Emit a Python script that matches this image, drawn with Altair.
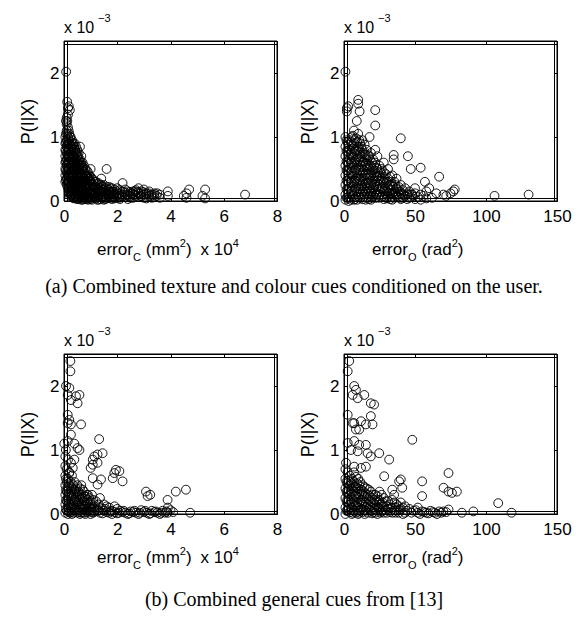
import altair as alt
import pandas as pd

# ---------------- data (y in units of 1e-3) ----------------
# (a) left: error_C (x 1e4 mm^2) -- columns of points (x, list of y)
tl_cx = [0.05, 0.1, 0.15, 0.2, 0.25, 0.3, 0.35, 0.4, 0.45, 0.5, 0.55, 0.6, 0.65,
         0.7, 0.75, 0.8, 0.85, 0.9, 0.95, 1.0, 1.05, 1.1, 1.15, 1.2, 1.25, 1.3,
         1.35, 1.4, 1.45, 1.5, 1.55, 1.6, 1.65, 1.7, 1.75, 1.8, 1.85, 1.9, 2.0,
         2.1, 2.2, 2.3, 2.4, 2.5, 2.6, 2.7, 2.8, 2.9, 3.0, 3.1, 3.2, 3.3, 3.4,
         3.5, 3.6, 3.9, 4.5, 4.6, 4.7, 5.2, 5.3, 6.8]
tl_cy = [[1.0, 0.9, 0.8, 0.7, 0.6, 0.5, 0.4, 0.3],
         [1.3, 1.2, 1.1, 0.95, 0.85, 0.75, 0.65, 0.55, 0.45, 0.35, 0.25],
         [1.35, 1.15, 1.0, 0.9, 0.8, 0.7, 0.6, 0.5, 0.4, 0.3, 0.2],
         [1.05, 0.9, 0.8, 0.7, 0.6, 0.5, 0.4, 0.3, 0.2, 0.12],
         [1.0, 0.85, 0.75, 0.65, 0.55, 0.45, 0.35, 0.25, 0.15, 0.1],
         [0.95, 0.85, 0.75, 0.65, 0.55, 0.45, 0.35, 0.25, 0.15, 0.08],
         [0.9, 0.8, 0.7, 0.6, 0.5, 0.4, 0.3, 0.2, 0.1, 0.05],
         [0.9, 0.8, 0.7, 0.6, 0.5, 0.4, 0.3, 0.2, 0.1, 0.05],
         [0.85, 0.75, 0.65, 0.55, 0.45, 0.35, 0.25, 0.15, 0.05],
         [0.8, 0.7, 0.6, 0.5, 0.4, 0.3, 0.2, 0.1, 0.03],
         [0.75, 0.65, 0.55, 0.45, 0.35, 0.25, 0.15, 0.05],
         [0.85, 0.65, 0.55, 0.45, 0.35, 0.25, 0.15, 0.05],
         [0.7, 0.6, 0.5, 0.4, 0.3, 0.2, 0.1, 0.02],
         [0.6, 0.5, 0.4, 0.3, 0.2, 0.1, 0.02],
         [0.55, 0.45, 0.35, 0.25, 0.15, 0.05],
         [0.5, 0.42, 0.33, 0.25, 0.15, 0.06],
         [0.48, 0.38, 0.3, 0.2, 0.1, 0.03],
         [0.45, 0.35, 0.27, 0.18, 0.08, 0.02],
         [0.4, 0.32, 0.23, 0.13, 0.05],
         [0.5, 0.38, 0.3, 0.2, 0.1, 0.03],
         [0.35, 0.27, 0.18, 0.1, 0.02],
         [0.33, 0.25, 0.17, 0.08],
         [0.3, 0.2, 0.12, 0.05],
         [0.3, 0.22, 0.12, 0.04],
         [0.27, 0.18, 0.08, 0.02],
         [0.28, 0.2, 0.1, 0.02],
         [0.25, 0.17, 0.08],
         [0.35, 0.25, 0.15, 0.06],
         [0.22, 0.14, 0.05],
         [0.25, 0.17, 0.08, 0.02],
         [0.2, 0.1, 0.03],
         [0.5, 0.22, 0.12, 0.04],
         [0.18, 0.1],
         [0.22, 0.14, 0.05],
         [0.2, 0.08],
         [0.2, 0.12, 0.03],
         [0.15, 0.06],
         [0.18, 0.1, 0.04],
         [0.2, 0.12, 0.05],
         [0.17, 0.08, 0.03],
         [0.28, 0.15, 0.07],
         [0.18, 0.1],
         [0.15, 0.08, 0.03],
         [0.12, 0.05],
         [0.15, 0.1, 0.05],
         [0.17, 0.08],
         [0.2, 0.12, 0.06],
         [0.15, 0.07],
         [0.18, 0.1, 0.05],
         [0.12, 0.04],
         [0.15, 0.08],
         [0.1, 0.05],
         [0.12, 0.06],
         [0.12],
         [0.1, 0.05],
         [0.15, 0.08],
         [0.08],
         [0.12, 0.05],
         [0.18],
         [0.08],
         [0.18, 0.04],
         [0.1]]
tl_fx = [0.075, 0.125, 0.175, 0.225, 0.275, 0.325, 0.375, 0.425, 0.475, 0.525,
         0.575, 0.625, 0.675, 0.725, 0.775, 0.825, 0.875, 0.925, 0.975, 1.08,
         1.18, 1.28, 1.38, 1.48, 1.58, 1.68, 1.78, 1.88, 1.98, 2.08, 2.18, 2.28,
         2.38, 2.48, 2.58, 2.68, 2.78, 2.88, 2.98, 3.08, 3.18, 3.28, 3.38, 3.48]
tl_fy = [[1.25, 1.05, 0.92, 0.78, 0.62, 0.48, 0.33],
         [1.25, 1.05, 0.88, 0.72, 0.58, 0.42, 0.28],
         [1.1, 0.95, 0.82, 0.68, 0.52, 0.38, 0.25, 0.15],
         [1.0, 0.88, 0.72, 0.58, 0.42, 0.28, 0.15, 0.08],
         [0.92, 0.78, 0.62, 0.48, 0.32, 0.2, 0.1],
         [0.88, 0.72, 0.58, 0.42, 0.28, 0.18, 0.06],
         [0.85, 0.68, 0.52, 0.38, 0.25, 0.12, 0.04],
         [0.8, 0.62, 0.48, 0.32, 0.18, 0.08],
         [0.75, 0.58, 0.42, 0.28, 0.15, 0.06],
         [0.7, 0.52, 0.38, 0.22, 0.1, 0.03],
         [0.62, 0.48, 0.32, 0.18, 0.08],
         [0.58, 0.42, 0.28, 0.12, 0.04],
         [0.55, 0.38, 0.22, 0.08],
         [0.52, 0.35, 0.18, 0.06],
         [0.45, 0.3, 0.12, 0.03],
         [0.4, 0.22, 0.08],
         [0.38, 0.25, 0.12, 0.04],
         [0.35, 0.2, 0.06],
         [0.3, 0.15, 0.05],
         [0.22, 0.12, 0.05],
         [0.2, 0.1],
         [0.17, 0.06],
         [0.2, 0.11, 0.03],
         [0.18, 0.07],
         [0.15, 0.06],
         [0.17, 0.08],
         [0.14, 0.05],
         [0.12, 0.07],
         [0.15, 0.08],
         [0.12, 0.05],
         [0.1],
         [0.13, 0.06],
         [0.1],
         [0.14, 0.08],
         [0.12],
         [0.15, 0.1],
         [0.14],
         [0.12, 0.08],
         [0.14],
         [0.1],
         [0.12],
         [0.08],
         [0.1],
         [0.08]]
tl_ox = [0.08, 0.12, 0.18, 0.15, 0.22]
tl_oy = [2.02, 1.55, 1.48, 1.45, 1.42]

# (a) right: error_O (rad^2)
tr_cx = [1, 2.5, 4, 5.5, 7, 8.5, 10, 11.5, 13, 14.5, 16, 17.5, 19, 20.5, 22,
         23.5, 25, 26.5, 28, 29.5, 31, 32.5, 34, 35.5, 37, 38.5, 40, 41.5, 43,
         44.5, 46, 48, 50, 54, 56, 58, 62]
tr_cy = [[1.0, 0.85, 0.7, 0.55, 0.4, 0.25, 0.1, 0.02],
         [0.92, 0.78, 0.62, 0.48, 0.32, 0.18, 0.05],
         [0.95, 0.8, 0.65, 0.5, 0.35, 0.2, 0.05],
         [1.0, 0.87, 0.72, 0.58, 0.42, 0.28, 0.12],
         [1.1, 0.9, 0.75, 0.6, 0.45, 0.3, 0.15, 0.02],
         [0.98, 0.8, 0.65, 0.5, 0.35, 0.2, 0.06],
         [1.05, 0.85, 0.7, 0.55, 0.4, 0.25, 0.1],
         [0.9, 0.75, 0.62, 0.48, 0.33, 0.18, 0.05],
         [0.95, 0.8, 0.6, 0.45, 0.3, 0.15, 0.03],
         [0.88, 0.72, 0.55, 0.4, 0.25, 0.1],
         [0.8, 0.65, 0.5, 0.35, 0.2, 0.05],
         [0.7, 0.58, 0.42, 0.28, 0.15, 0.03],
         [0.75, 0.55, 0.4, 0.25, 0.12, 0.02],
         [0.65, 0.5, 0.35, 0.2, 0.08],
         [0.8, 0.6, 0.45, 0.3, 0.15, 0.05],
         [0.7, 0.5, 0.38, 0.22, 0.1],
         [0.55, 0.4, 0.25, 0.1],
         [0.5, 0.35, 0.2, 0.06],
         [0.6, 0.45, 0.3, 0.15, 0.03],
         [0.42, 0.28, 0.12],
         [0.5, 0.35, 0.2, 0.08],
         [0.38, 0.25, 0.12, 0.03],
         [0.4, 0.25, 0.12, 0.02],
         [0.3, 0.15, 0.05],
         [0.35, 0.2, 0.08],
         [0.22, 0.1],
         [0.25, 0.12, 0.03],
         [0.17, 0.05],
         [0.2, 0.08],
         [0.12, 0.03],
         [0.15, 0.05],
         [0.1],
         [0.12, 0.03],
         [0.1, 0.02],
         [0.08],
         [0.04],
         [0.05]]
tr_fx = [1.75, 3.25, 4.75, 6.25, 7.75, 9.25, 10.75, 12.25, 13.75, 15.25, 16.75,
         18.25, 19.75, 21.25, 22.75, 24.25, 25.75, 27.25, 28.75, 30.25, 31.75,
         33.25, 34.75, 36.25, 37.75, 39.25, 42, 45, 47, 52]
tr_fy = [[0.95, 0.78, 0.62, 0.48, 0.32, 0.18, 0.05],
         [0.88, 0.72, 0.58, 0.42, 0.28, 0.12, 0.0],
         [0.92, 0.75, 0.6, 0.45, 0.3, 0.15, 0.02],
         [1.02, 0.82, 0.68, 0.52, 0.38, 0.22, 0.08],
         [0.95, 0.78, 0.62, 0.48, 0.32, 0.18, 0.03],
         [0.92, 0.78, 0.6, 0.45, 0.3, 0.15, 0.02],
         [0.95, 0.8, 0.65, 0.5, 0.35, 0.2, 0.06],
         [0.85, 0.7, 0.55, 0.4, 0.25, 0.1],
         [0.75, 0.62, 0.48, 0.35, 0.2, 0.06],
         [0.72, 0.58, 0.42, 0.28, 0.15, 0.02],
         [0.72, 0.55, 0.42, 0.28, 0.12],
         [0.65, 0.5, 0.35, 0.2, 0.08],
         [0.6, 0.45, 0.3, 0.15, 0.05],
         [0.55, 0.4, 0.25, 0.12],
         [0.52, 0.38, 0.22, 0.1],
         [0.45, 0.32, 0.18, 0.05],
         [0.45, 0.3, 0.15],
         [0.38, 0.22, 0.08],
         [0.35, 0.2, 0.06],
         [0.3, 0.15, 0.04],
         [0.25, 0.12],
         [0.3, 0.18, 0.06],
         [0.22, 0.1],
         [0.25, 0.12],
         [0.18, 0.06],
         [0.15, 0.05],
         [0.1],
         [0.1],
         [0.06],
         [0.06]]
tr_ox = [1, 2, 3, 2, 10, 10, 11, 22, 22, 18, 9, 40, 45, 35, 35, 47, 54, 57,
         67, 58, 65, 70, 75, 77, 78, 72, 106, 130, 60, 50, 48]
tr_oy = [2.02, 1.45, 1.48, 1.4, 1.58, 1.52, 1.4, 1.42, 1.18, 1.0, 1.25, 0.98,
         0.7, 0.72, 0.65, 0.5, 0.52, 0.3, 0.38, 0.15, 0.12, 0.1, 0.12, 0.15,
         0.18, 0.08, 0.08, 0.1, 0.2, 0.2, 0.1]

# (b) left: error_C (x 1e4 mm^2)
bl_cx = [0.05, 0.1, 0.15, 0.2, 0.25, 0.3, 0.35, 0.4, 0.45, 0.5, 0.55, 0.6, 0.65,
         0.7, 0.75, 0.8, 0.85, 0.9, 0.95, 1.0, 1.05, 1.1, 1.2, 1.3, 1.35, 1.45,
         1.5, 1.6, 1.7, 1.8, 1.9, 2.0, 2.1, 2.2, 2.3, 2.4, 2.5, 2.6, 2.7, 2.8,
         2.9, 3.0, 3.1, 3.2, 3.3, 3.4, 3.5, 3.6, 3.7, 3.8, 3.9, 4.0, 4.1]
bl_cy = [[0.9, 0.75, 0.6, 0.45, 0.3, 0.15, 0.02],
         [0.7, 0.5, 0.35, 0.2, 0.05],
         [0.85, 0.55, 0.4, 0.25, 0.1, 0.0],
         [0.65, 0.45, 0.3, 0.15, 0.03],
         [0.5, 0.35, 0.2, 0.08],
         [0.6, 0.4, 0.25, 0.1, 0.0],
         [0.45, 0.3, 0.15, 0.02],
         [0.5, 0.35, 0.2, 0.05],
         [0.4, 0.25, 0.1],
         [0.45, 0.3, 0.15, 0.02],
         [0.35, 0.2, 0.05],
         [0.4, 0.25, 0.1, 0.0],
         [0.45, 0.3, 0.15, 0.02],
         [0.38, 0.25, 0.12, 0.03],
         [0.35, 0.2, 0.08],
         [0.27, 0.12, 0.0],
         [0.3, 0.15, 0.03],
         [0.3, 0.18, 0.05],
         [0.25, 0.1],
         [0.2, 0.08, 0.0],
         [0.3, 0.15, 0.03],
         [0.22, 0.1, 0.02],
         [0.2, 0.08],
         [0.15, 0.05],
         [0.25, 0.1, 0.02],
         [0.08, 0.01],
         [0.15, 0.05],
         [0.12, 0.03],
         [0.1, 0.02],
         [0.05, 0.0],
         [0.12, 0.03],
         [0.08, 0.01],
         [0.05],
         [0.03],
         [0.02],
         [0.0],
         [0.04],
         [0.03],
         [0.02],
         [0.0],
         [0.06],
         [0.03],
         [0.02],
         [0.0],
         [0.05],
         [0.03],
         [0.02],
         [0.0],
         [0.05],
         [0.02],
         [0.1, 0.02],
         [0.06],
         [0.03]]
bl_fx = [0.075, 0.175, 0.275, 0.375, 0.475, 0.575, 0.675, 0.775, 0.875, 0.975,
         1.15, 1.25, 1.55, 1.75, 2.05, 2.25, 2.45, 2.65, 2.85, 3.05, 3.25, 3.45,
         3.65, 3.85]
bl_fy = [[0.55, 0.38, 0.22, 0.08],
         [0.48, 0.32, 0.18, 0.04],
         [0.42, 0.28, 0.14, 0.03],
         [0.38, 0.22, 0.08],
         [0.35, 0.2, 0.06],
         [0.3, 0.15, 0.03],
         [0.25, 0.08],
         [0.28, 0.12, 0.02],
         [0.22, 0.08],
         [0.15, 0.04],
         [0.12, 0.04],
         [0.05],
         [0.08],
         [0.04],
         [0.02],
         [0.05],
         [0.01],
         [0.05],
         [0.02],
         [0.05],
         [0.01],
         [0.04],
         [0.02],
         [0.04]]
bl_ox = [0.24, 0.24, 0.075, 0.2, 0.14, 0.26, 0.45, 0.58, 0.51, 0.14, 0.2, 0.14,
         0.26, 0.64, 0.26, 0.14, 0.39, 0.01, 0.07, 0.51, 0.58, 1.32, 1.14, 1.08,
         1.26, 1.45, 1.08, 1.26, 1.0, 1.95, 1.89, 2.08, 1.83, 2.2, 1.08, 1.39,
         1.26, 0.26, 0.39, 0.33, 0.2, 3.08, 3.24, 3.14, 4.2, 4.58, 3.89, 4.74]
bl_oy = [2.39, 2.23, 2.0, 1.97, 1.86, 1.78, 1.84, 1.86, 1.73, 1.55, 1.47, 1.42,
         1.4, 1.4, 1.24, 1.14, 1.1, 1.1, 1.0, 1.03, 1.0, 1.17, 0.9, 0.85,
         0.93, 0.95, 0.77, 0.8, 0.72, 0.69, 0.64, 0.67, 0.56, 0.51, 0.56, 0.54,
         0.46, 0.8, 0.85, 0.72, 0.64, 0.35, 0.3, 0.28, 0.35, 0.38, 0.22, 0.02]

# (b) right: error_O (rad^2)
br_cx = [1, 2.5, 4, 5.5, 7, 8.5, 10, 11.5, 13, 14.5, 16, 17.5, 19, 20.5, 22,
         23.5, 25, 26.5, 28, 29.5, 31, 32.5, 34, 35.5, 37, 38.5, 40, 41.5, 43,
         44.5, 46, 47.5, 49, 50.5, 52, 53.5, 55, 56.5, 58, 59.5, 61, 62.5, 64,
         65.5, 67, 68.5]
br_cy = [[0.7, 0.55, 0.4, 0.25, 0.1, 0.0],
         [0.65, 0.48, 0.33, 0.18, 0.05],
         [0.6, 0.45, 0.3, 0.15, 0.03],
         [0.55, 0.4, 0.25, 0.1, 0.0],
         [0.65, 0.5, 0.35, 0.2, 0.05],
         [0.58, 0.42, 0.28, 0.13, 0.02],
         [0.55, 0.4, 0.25, 0.1, 0.0],
         [0.5, 0.35, 0.2, 0.05],
         [0.45, 0.3, 0.15, 0.03],
         [0.42, 0.28, 0.12, 0.0],
         [0.4, 0.25, 0.1],
         [0.38, 0.22, 0.08],
         [0.35, 0.2, 0.05],
         [0.3, 0.17, 0.03],
         [0.3, 0.15, 0.02],
         [0.28, 0.12, 0.0],
         [0.35, 0.2, 0.08],
         [0.3, 0.15, 0.04],
         [0.25, 0.12, 0.02],
         [0.2, 0.06],
         [0.2, 0.08],
         [0.15, 0.03],
         [0.22, 0.1, 0.02],
         [0.18, 0.06],
         [0.15, 0.05],
         [0.12, 0.02],
         [0.18, 0.08],
         [0.1, 0.0],
         [0.12, 0.02],
         [0.05],
         [0.08],
         [0.02],
         [0.05],
         [0.06],
         [0.1, 0.02],
         [0.0],
         [0.04],
         [0.03],
         [0.02],
         [0.01],
         [0.05],
         [0.03],
         [0.02],
         [0.0],
         [0.04],
         [0.02]]
br_fx = [1.75, 3.25, 4.75, 6.25, 7.75, 9.25, 10.75, 12.25, 13.75, 15.25, 16.75,
         18.25, 19.75, 21.25, 22.75, 24.25, 25.75, 27.25, 30.25, 33.25, 36.25,
         39.25]
br_fy = [[0.5, 0.35, 0.2, 0.05],
         [0.52, 0.38, 0.22, 0.08],
         [0.5, 0.35, 0.2, 0.06],
         [0.45, 0.3, 0.15, 0.02],
         [0.42, 0.28, 0.12],
         [0.48, 0.32, 0.18, 0.05],
         [0.45, 0.3, 0.15, 0.02],
         [0.38, 0.22, 0.08],
         [0.35, 0.2, 0.06],
         [0.32, 0.18, 0.05],
         [0.3, 0.15, 0.02],
         [0.28, 0.12],
         [0.25, 0.1, 0.01],
         [0.22, 0.08],
         [0.2, 0.06],
         [0.22, 0.1],
         [0.15, 0.02],
         [0.18, 0.06],
         [0.12, 0.02],
         [0.1],
         [0.1, 0.02],
         [0.06]]
br_ox = [3.7, 2.6, 7.2, 8.4, 6.1, 9.6, 14.3, 18.9, 21.2, 2.6, 7.2, 12, 15.4,
         20.1, 6.1, 8.4, 10.7, 18.9, 48.1, 2.6, 7.2, 10.7, 15.4, 4.9, 9.6, 16.6,
         18.9, 24.8, 31.8, 1.4, 7.2, 12, 15.4, 28.3, 40, 38.8, 55, 73.6, 70.1,
         73.6, 76, 79.5, 55, 41, 34, 35.3, 108.6, 118, 91.1, 83, 73.6, 70, 72]
br_oy = [2.39, 2.23, 2.0, 1.94, 1.86, 1.81, 1.86, 1.73, 1.71, 1.55, 1.42, 1.45,
         1.4, 1.4, 1.42, 1.32, 1.32, 1.53, 1.16, 1.11, 1.14, 1.08, 1.08, 1.0,
         0.98, 0.95, 0.9, 0.95, 0.85, 0.8, 0.74, 0.72, 0.74, 0.59, 0.54, 0.51,
         0.51, 0.64, 0.41, 0.35, 0.33, 0.35, 0.28, 0.41, 0.38, 0.3, 0.17, 0.02,
         0.04, 0.02, 0.07, 0.04, 0.03]

x_ticks_c = [0, 2, 4, 6, 8]
x_ticks_o = [0, 50, 100, 150]
y_ticks = [0, 1, 2]
caption_a = "(a) Combined texture and colour cues conditioned on the user."
caption_b = "(b) Combined general cues from [13]"


def to_frame(groups, ox, oy):
    xs, ys = [], []
    for cx, cy in groups:
        for x, col in zip(cx, cy):
            for y in col:
                xs.append(x)
                ys.append(y)
    xs += ox
    ys += oy
    return pd.DataFrame({"x": xs, "y": ys})


W, H = 213, 160
SANS = "Liberation Sans"
SERIF = "Liberation Serif"
F, FS = 17, 11  # main and sub/superscript font sizes for axis titles
TICK = 3

# Liberation Sans advance widths (per 1000 em)
ADV = {"e": 556, "r": 333, "o": 556, "(": 333, ")": 333, "m": 833, " ": 278,
       "x": 500, "1": 556, "0": 556, "a": 556, "d": 556, "C": 722, "O": 778,
       "2": 556, "4": 556}


def width(s, size):
    return sum(ADV.get(c, 556) for c in s) * size / 1000.0


ONE = pd.DataFrame({"k": [0]})


def txt(s, x, y, size, font=SANS, align="left"):
    return alt.Chart(ONE).mark_text(
        text=s, font=font, fontSize=size, align=align, baseline="alphabetic",
        color="black"
    ).encode(x=alt.value(x), y=alt.value(y))


def flow(parts, x0, base):
    """parts: (text, size, dy); text None means a gap of `size` pixels."""
    out = []
    x = x0
    for s, size, dy in parts:
        if s is None:
            x += size
            continue
        out.append(txt(s, x, base + dy, size))
        x += width(s, size)
    return out


def edge_axis(vals, orient, labels, title=None):
    kw = dict(values=vals, orient=orient, grid=False, domain=True,
              domainColor="black", domainWidth=1, domainOpacity=1,
              ticks=True, tickColor="black", tickWidth=1, tickSize=TICK,
              tickOpacity=1, offset=-TICK, labels=labels, labelFlush=False,
              labelOverlap=False, title=title)
    if labels:
        kw.update(labelFont=SANS, labelFontSize=17, labelColor="black",
                  format="d",
                  labelPadding=7 if orient in ("bottom", "top") else 5)
    if title:
        kw.update(titleFont=SANS, titleFontSize=18, titleFontWeight="normal",
                  titleColor="black", titlePadding=12)
    return alt.Axis(**kw)


def panel(df, xmax, xticks, sub, unit, title_x, title_base, caption=None):
    xs = alt.Scale(domain=[0, xmax], nice=False, zero=False)
    ys = alt.Scale(domain=[0, 2.5], nice=False, zero=False)
    pts = alt.Chart(df).mark_point(
        shape="circle", filled=False, color="black", size=78, strokeWidth=0.9,
        opacity=1
    ).encode(x=alt.X("x:Q", scale=xs, axis=edge_axis(xticks, "bottom", True)),
             y=alt.Y("y:Q", scale=ys,
                     axis=edge_axis(y_ticks, "left", True, "P(I|X)")))
    ghost = alt.Chart(df).mark_point(opacity=0).encode(
        x=alt.X("x:Q", scale=xs, axis=edge_axis(xticks, "top", False)),
        y=alt.Y("y:Q", scale=ys, axis=edge_axis(y_ticks, "right", False)))
    frame = alt.Chart(ONE).mark_rect(
        filled=False, stroke="black", strokeWidth=1
    ).encode(x=alt.value(0), x2=alt.value(W), y=alt.value(0), y2=alt.value(H))
    layers = [pts, ghost, frame,
              txt("x 10", 0, -8, 16),
              txt("\u22123", 34, -19, 11)]
    if unit == "mm":
        parts = [("error", F, 0), (sub, FS, 6), (None, 5, 0), ("(mm", F, 0),
                 ("2", FS, -8), (")", F, 0), (None, 9, 0), ("x 10", F, 0),
                 ("4", FS, -8)]
    else:
        parts = [("error", F, 0), (sub, FS, 6), (None, 5, 0), ("(rad", F, 0),
                 ("2", FS, -8), (")", F, 0)]
    layers += flow(parts, title_x, title_base)
    if caption:
        layers.append(txt(caption, 230, 252, 20, font=SERIF, align="center"))
    return alt.layer(*layers).properties(width=W, height=H)


tl = panel(to_frame([(tl_cx, tl_cy), (tl_fx, tl_fy)], tl_ox, tl_oy), 8,
           x_ticks_c, "C", "mm", 33, H + 54, caption_a)
tr = panel(to_frame([(tr_cx, tr_cy), (tr_fx, tr_fy)], tr_ox, tr_oy), 150,
           x_ticks_o, "O", "rad", 28, H + 54)
bl = panel(to_frame([(bl_cx, bl_cy), (bl_fx, bl_fy)], bl_ox, bl_oy), 8,
           x_ticks_c, "C", "mm", 33, H + 49, caption_b)
br = panel(to_frame([(br_cx, br_cy), (br_fx, br_fy)], br_ox, br_oy), 150,
           x_ticks_o, "O", "rad", 28, H + 49)

chart = alt.concat(
    tl, tr, bl, br, columns=2, bounds="flush",
    spacing=alt.RowColnumber(row=153, column=67),
).properties(
    padding={"left": 11, "top": 4, "right": 5, "bottom": 5},
    background="white",
).configure_view(stroke="black", strokeWidth=1)

chart.save("out.html", embed_options={"renderer": "svg", "actions": False})
